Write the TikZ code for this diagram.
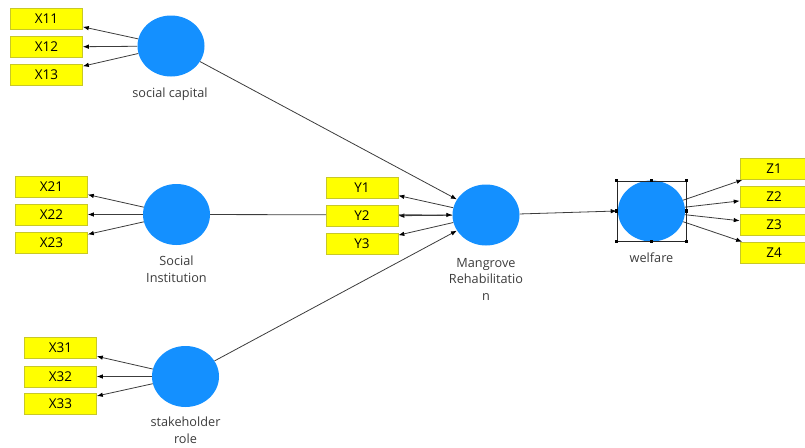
\documentclass[tikz,border=0pt]{standalone}
\usepackage{fontspec}
\setmainfont{Open Sans}
\usetikzlibrary{arrows.meta,backgrounds,shapes.geometric}
\definecolor{lvblue}{RGB}{20,144,255}
\definecolor{indyellow}{RGB}{255,255,0}
\definecolor{indedge}{RGB}{200,200,40}
\definecolor{linkgray}{RGB}{60,60,60}
\definecolor{captiongray}{RGB}{60,60,60}

\begin{document}
\begin{tikzpicture}[x=1pt,y=-1pt,
  latent/.style={ellipse, fill=lvblue, draw=none, inner sep=0pt,
    minimum width=67pt, minimum height=61pt},
  indicator/.style={rectangle, fill=indyellow, draw=indedge, line width=0.6pt,
    minimum width=72pt, minimum height=21pt, inner sep=0pt,
    font=\fontsize{13.5}{14}\selectfont},
  caption/.style={align=center, anchor=base, text=captiongray,
    font=\fontsize{12.7}{16.5}\selectfont, inner sep=0pt},
  link/.style={draw=linkgray, line width=0.8pt,
    -{Latex[length=6pt,width=4.5pt,color=black]}},
  handle/.style={rectangle, fill=black, minimum size=3.4pt, inner sep=0pt},
]
\useasboundingbox (0,0) rectangle (805,447);

% latent variables
\node[latent] (sc) at (171,46) {};
\node[latent] (si) at (176.5,214.5) {};
\node[latent] (sr) at (185.5,376.5) {};
\node[latent] (mr) at (486,215) {};
\node[latent] (wf) at (651.5,211) {};

% selection frame around welfare
\node[draw=black!85, line width=0.6pt, minimum width=69pt, minimum height=60pt,
  inner sep=0pt] (sel) at (651.5,211) {};
\foreach \a in {north west,north,north east,west,east,south west,south,south east}
  \node[handle] at (sel.\a) {};

% indicators
\node[indicator] (x11) at (46.5,19) {X11};
\node[indicator] (x12) at (46.5,47) {X12};
\node[indicator] (x13) at (46.5,74.5) {X13};
\node[indicator] (x21) at (51.5,186.5) {X21};
\node[indicator] (x22) at (51.5,214.5) {X22};
\node[indicator] (x23) at (51.5,242.5) {X23};
\node[indicator] (x31) at (60.5,348) {X31};
\node[indicator] (x32) at (60.5,376.5) {X32};
\node[indicator] (x33) at (60.5,404) {X33};
\node[indicator] (y1) at (362,187.5) {Y1};
\node[indicator] (y2) at (362,216) {Y2};
\node[indicator] (y3) at (362,243.5) {Y3};
\node[indicator, minimum width=68pt] (z1) at (774,169) {Z1};
\node[indicator, minimum width=68pt] (z2) at (774,197) {Z2};
\node[indicator, minimum width=68pt] (z3) at (774,224.5) {Z3};
\node[indicator, minimum width=68pt] (z4) at (774,252.5) {Z4};

% captions (base anchor sits on the last line)
\node[caption] (lsc) at (170,97.5) {social capital};
\node[caption] (lsi) at (176.5,282) {Social\\Institution};
\node[caption] (lsr) at (185.5,443) {stakeholder\\role};
\node[caption] (lmr) at (486,300) {Mangrove\\Rehabilitatio\\n};
\node[caption] (lwf) at (651.5,262) {welfare};

% connectors
\begin{scope}[on background layer]
  \foreach \i in {x11,x12,x13} \draw[link] (sc) -- (\i);
  \foreach \i in {x21,x22,x23} \draw[link] (si) -- (\i);
  \foreach \i in {x31,x32,x33} \draw[link] (sr) -- (\i);
  \foreach \i in {y1,y2,y3} \draw[link] (mr) -- (\i);
  \foreach \i in {z1,z2,z3,z4} \draw[link] (wf) -- (\i);
  \draw[link] (sc) -- (mr);
  \draw[link] (si) -- (mr);
  \draw[link] (sr) -- (mr);
  \draw[link] (mr) -- (sel.west);
\end{scope}
\end{tikzpicture}
\end{document}
